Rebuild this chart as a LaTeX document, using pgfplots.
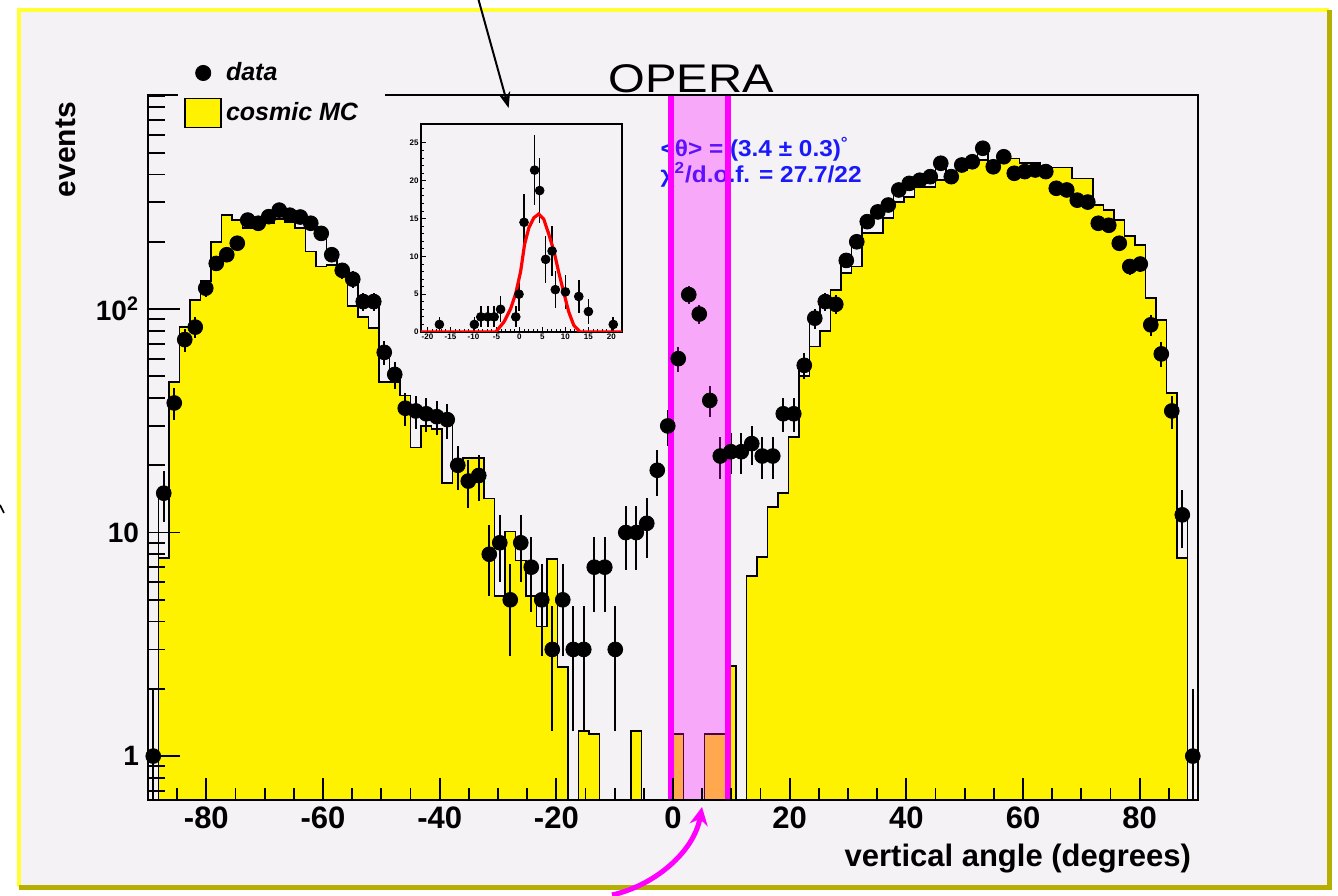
\documentclass[border=0pt]{standalone}
\usepackage{graphicx}
\usepackage{pgfplots}
\pgfplotsset{compat=1.18}
\usepackage{pgfplotstable}
\usepackage{fontspec}
\setmainfont{Liberation Sans}
\usetikzlibrary{arrows.meta}
\definecolor{bgc}{RGB}{245,242,245}
\definecolor{fyel}{RGB}{255,255,50}
\definecolor{oliv}{RGB}{180,175,0}
\definecolor{bluet}{RGB}{25,25,250}
\definecolor{mag}{RGB}{255,0,255}

\pgfplotstableread{
e mc mt
-90.0 0.01 0.01
-90.0 0.01 1
-88.2 7.7 15
-86.4 47 38
-84.6 83 73
-82.8 110 83
-81.0 133 124
-79.2 200 160
-77.4 264 175
-75.6 250 197
-73.8 230 250
-72.0 235 242
-70.2 242 259
-68.4 252 277
-66.6 246 263
-64.8 230 258
-63.0 181 242
-61.2 155 218
-59.4 157 175
-57.6 144 149
-55.8 103 136
-54.0 92 108
-52.2 82 108
-50.4 47 64
-48.6 47 51
-46.8 41 36
-45.0 24 35
-43.2 30 34
-41.4 29 33
-39.6 16.6 32
-37.8 21 20
-36.0 21.5 17
-34.2 21.5 18
-32.4 14.2 8
-30.6 5.2 5.2
-28.8 10.1 10.1
-27.0 7.5 7.5
-25.2 5.2 5.2
-23.4 3.8 3.8
-21.6 7.6 7.6
-19.8 2.5 2.5
-18.0 0.01 0.01
-16.2 1.29 1.29
-14.4 1.26 1.26
-12.6 0.01 0.01
-10.8 0.01 0.01
-9.0 0.01 0.01
-7.2 1.29 1.29
-5.4 0.01 0.01
-3.6 0.01 0.01
-1.8 0.01 0.01
0.0 1.26 1.26
1.8 0.01 0.01
3.6 0.01 0.01
5.4 1.26 1.26
7.2 1.26 1.26
9.0 2.53 2.53
10.8 0.01 0.01
12.6 6.4 6.4
14.4 7.8 7.8
16.2 13 13
18.0 15 15
19.8 26.7 26.7
21.6 50 56
23.4 68 91
25.2 80 108
27.0 122 105
28.8 145 165
30.6 155 200
32.4 218 246
34.2 218 272
36.0 255 292
37.8 302 341
39.6 318 365
41.4 352 377
43.2 352 391
45.0 377 449
46.8 391 391
48.6 419 441
50.4 449 456
52.2 465 524
54.0 456 433
55.8 465 480
57.6 472 405
59.4 449 412
61.2 449 419
63.0 433 412
64.8 430 347
66.6 430 341
68.4 384 307
70.2 384 301
72.0 292 242
73.8 277 237
75.6 250 197
77.4 212 155
79.2 193 159
81.0 112 85
82.8 89 63
84.6 42 35
86.4 7.7 12
88.2 0.01 1
90.0 0.01 1
90.0 0.01 0.01
}\mctab

\pgfplotstableread{
x y err
-89.1 1 0.999
-87.3 15 3.9
-85.5 38 6.2
-83.7 73 8.5
-81.9 83 9.1
-80.1 124 11.1
-78.3 160 12.6
-76.5 175 13.2
-74.7 197 14.0
-72.9 250 15.8
-71.1 242 15.6
-69.3 259 16.1
-67.5 277 16.6
-65.7 263 16.2
-63.9 258 16.1
-62.1 242 15.6
-60.3 218 14.8
-58.5 175 13.2
-56.7 149 12.2
-54.9 136 11.7
-53.1 108 10.4
-51.3 108 10.4
-49.5 64 8.0
-47.7 51 7.1
-45.9 36 6.0
-44.1 35 5.9
-42.3 34 5.8
-40.5 33 5.7
-38.7 32 5.7
-36.9 20 4.5
-35.1 17 4.1
-33.3 18 4.2
-31.5 8 2.8
-29.7 9 3.0
-27.9 5 2.2
-26.1 9 3.0
-24.3 7 2.6
-22.5 5 2.2
-20.7 3 1.7
-18.9 5 2.2
-17.1 3 1.7
-15.3 3 1.7
-13.5 7 2.6
-11.7 7 2.6
-9.9 3 1.7
-8.1 10 3.2
-6.3 10 3.2
-4.5 11 3.3
-2.7 19 4.4
-0.9 30 5.5
0.9 60 7.7
2.7 116 10.8
4.5 95 9.7
6.3 39 6.2
8.1 22 4.7
9.9 23 4.8
11.7 23 4.8
13.5 25 5.0
15.3 22 4.7
17.1 22 4.7
18.9 34 5.8
20.7 34 5.8
22.5 56 7.5
24.3 91 9.5
26.1 108 10.4
27.9 105 10.2
29.7 165 12.8
31.5 200 14.1
33.3 246 15.7
35.1 272 16.5
36.9 292 17.1
38.7 341 18.5
40.5 365 19.1
42.3 377 19.4
44.1 391 19.8
45.9 449 21.2
47.7 391 19.8
49.5 441 21.0
51.3 456 21.4
53.1 524 22.9
54.9 433 20.8
56.7 480 21.9
58.5 405 20.1
60.3 412 20.3
62.1 419 20.5
63.9 412 20.3
65.7 347 18.6
67.5 341 18.5
69.3 307 17.5
71.1 301 17.3
72.9 242 15.6
74.7 237 15.4
76.5 197 14.0
78.3 155 12.4
80.1 159 12.6
81.9 85 9.2
83.7 63 7.9
85.5 35 5.9
87.3 12 3.5
89.1 1 0.999
}\datatab

\begin{document}
\begin{tikzpicture}[x=1pt,y=1pt]
\path[use as bounding box] (0pt,0pt) rectangle (669pt,447.5pt);
\fill[bgc] (9.5pt,4pt) rectangle (664.5pt,442.5pt);
\draw[fyel, line width=2pt] (9.5pt,4pt) -- (9.5pt,442.5pt) -- (664.5pt,442.5pt);
\draw[oliv, line width=2.5pt] (9.5pt,4pt) -- (664.5pt,4pt) -- (664.5pt,442.5pt);
\draw[line width=0.8pt] (0pt,195pt) -- (2pt,191pt);

\begin{axis}[name=main, at={(74pt,47.5pt)}, anchor=south west, scale only axis,
  width=525pt, height=352.5pt,
  xmin=-90, xmax=90, ymode=log, ymin=0.636, ymax=907,
  axis on top=true,
  axis line style={line width=1pt},
  tick align=inside, tick style={black, line width=0.9pt},
  major tick length=11pt, minor tick length=6pt,
  xtick={-80,-60,-40,-20,0,20,40,60,80},
  minor xtick={-85,-75,-70,-65,-55,-50,-45,-35,-30,-25,-15,-10,-5,5,10,15,25,30,35,45,50,55,65,70,75,85},
  xticklabels={-80,-60,-40,-20,0,20,40,60,80},
  xtick pos=bottom,
  ytick={1,10,100}, yticklabels={}, 
  ytick pos=left, major y tick style={draw=none}, minor y tick style={draw=none},
  xticklabel style={font=\fontsize{15.5}{18}\selectfont\bfseries},
  xlabel={vertical angle (degrees)},
  xlabel style={at={(axis description cs:1,0)}, anchor=base east, yshift=-33pt,
     font=\fontsize{15.5}{18}\selectfont\bfseries},
  ylabel={events},
  ylabel style={at={(axis description cs:-0.0695,1)}, anchor=base east,
     font=\fontsize{15}{18}\selectfont\bfseries},
  legend style={at={(axis description cs:0.0286,1.0638)}, anchor=north west,
     draw=none, fill=bgc, font=\fontsize{12.5}{14}\selectfont\bfseries\itshape,
     row sep=5pt, inner xsep=3pt, inner ysep=4pt},
  legend cell align=left,
  reverse legend,
]
\addplot[forget plot, const plot mark left, draw=black, line width=0.9pt, mark=none]
  table[x=e, y=mt]{\mctab};
\addplot[const plot mark left, draw=black, fill=yellow, line width=0.9pt, mark=none,
  legend image code/.code={\draw[fill=yellow,draw=black,line width=0.8pt] (0pt,-7.25pt) rectangle (18pt,7.25pt);}]
  table[x=e, y=mc]{\mctab};
\addlegendentry{cosmic MC}
\addplot[only marks, mark=*, mark size=3.7pt, black,
  legend image code/.code={\fill[black] (9pt,0pt) circle (3.8pt);},
  error bars/.cd, y dir=both, y explicit, error mark=none,
  error bar style={line width=1pt, black}]
  table[x=x, y=y, y error=err]{\datatab};
\addlegendentry{data}

\node[anchor=base west, text=bluet, font=\fontsize{11.5}{13}\selectfont\bfseries, inner sep=0]
  at (axis cs:-2.2,479) {\scalebox{1.06}[1]{<θ> = (3.4 ± 0.3)\textsuperscript{°}}};
\node[anchor=base west, text=bluet, font=\fontsize{11.5}{13}\selectfont\bfseries, inner sep=0]
  at (axis cs:-2.2,370) {\scalebox{1.06}[1]{χ\textsuperscript{2}/d.o.f. = 27.7/22}};

\fill[mag, opacity=0.3] (axis cs:-0.43,0.636) rectangle (axis cs:9.51,907);
\draw[mag, line width=3pt] (axis cs:-0.43,0.636) -- (axis cs:-0.43,907);
\draw[mag, line width=3pt] (axis cs:9.51,0.636) -- (axis cs:9.51,907);
\end{axis}

\begin{axis}[at={(74pt,47.5pt)}, anchor=south west, scale only axis,
  width=525pt, height=352.5pt,
  xmin=-90, xmax=90, ymode=log, ymin=0.636, ymax=907,
  axis line style={draw=none},
  xtick={0}, xticklabels={}, major x tick style={draw=none},
  ytick={1,10,100}, yticklabels={1,10,10\textsuperscript{2}},
  minor ytick={0.7,0.8,0.9,2,3,4,5,6,7,8,9,20,30,40,50,60,70,80,90,200,300,400,500,600,700,800,900},
  ytick pos=left, tick align=inside, tick style={black, line width=0.9pt},
  major tick length=16pt, minor tick length=8.5pt,
  yticklabel style={font=\fontsize{14}{17}\selectfont\bfseries, xshift=-1pt},
]
\addplot[draw=none, mark=none] coordinates {(0,1) (1,1)};
\end{axis}

% legend box reaches a little further right over the frame line
\fill[bgc] (179pt,399.1pt) rectangle (192.5pt,400.9pt);

\begin{axis}[at={(210.5pt,281.5pt)}, anchor=south west, scale only axis,
  width=100.5pt, height=104pt,
  xmin=-21.4, xmax=22.3, ymin=0, ymax=27.5,
  axis background/.style={fill=bgc},
  axis line style={line width=0.9pt},
  tick align=inside, tick style={black, line width=0.4pt},
  major tick length=2.5pt, minor tick length=1.3pt,
  xtick={-20,-15,-10,-5,0,5,10,15,20}, xticklabels={-20,-15,-10,-5,0,5,10,15,20},
  ytick={0,5,10,15,20,25}, yticklabels={0,5,10,15,20,25},
  minor x tick num=4, minor y tick num=4,
  xtick pos=bottom, ytick pos=left,
  ticklabel style={font=\fontsize{4}{5}\selectfont\bfseries, inner sep=1pt},
]
\addplot[only marks, mark=*, mark size=2.2pt, black,
  error bars/.cd, y dir=both, y explicit, error mark=none,
  error bar style={line width=0.8pt, black}]
  coordinates {
  (-17.4,1) +- (0,1)
  (-9.8,1) +- (0,1)
  (-8.4,2) +- (0,1.4)
  (-6.9,2) +- (0,1.4)
  (-5.5,2) +- (0,1.4)
  (-4.1,3) +- (0,1.7)
  (-0.8,2) +- (0,1.4)
  (-0.1,5) +- (0,2.2)
  (1.0,14.5) +- (0,3.8)
  (3.3,21.4) +- (0,4.6)
  (4.4,18.7) +- (0,4.3)
  (5.7,9.6) +- (0,3.1)
  (7.1,10.7) +- (0,3.3)
  (7.8,5.6) +- (0,2.4)
  (10.0,5.3) +- (0,2.3)
  (12.9,4.7) +- (0,2.2)
  (15.0,2.7) +- (0,1.6)
  (20.4,1) +- (0,1)
  };
\addplot[red, line width=1.6pt, mark=none] coordinates {
  (-21.4,0) (-5.15,0) (-3.35,1.34) (-1.9,3.1) (-0.8,5.1) (0.26,8.0) (1.12,11.6)
  (2.06,13.8) (3.14,15.1) (4.2,15.6) (5.3,14.9) (6.4,12.9) (7.5,10.7) (8.5,8.0)
  (9.6,5.3) (10.7,2.7) (11.8,0.9) (13.2,0) (22.3,0)};
\end{axis}

\node[anchor=base west, font=\fontsize{20}{24}\selectfont, inner sep=0] at (304pt,401pt)
  {\scalebox{1.18}[1]{OPERA}};

\draw[line width=1pt, -{Stealth[length=8pt,width=6pt]}] (239.3pt,447.5pt) -- (254.3pt,393.5pt);
\draw[mag, line width=2.5pt, -{Stealth[length=9pt,width=9pt]}] (306pt,0pt) .. controls (328pt,5pt) and (347pt,22pt) .. (351pt,44pt);
\end{tikzpicture}
\end{document}
